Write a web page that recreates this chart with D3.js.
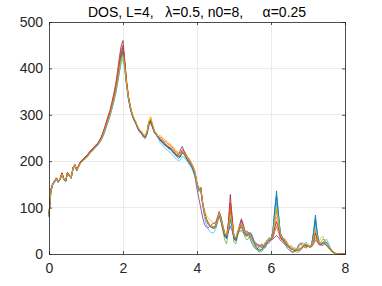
<!DOCTYPE html>
<html><head><meta charset="utf-8">
<script src="https://cdn.jsdelivr.net/npm/d3@7"></script>
<style>body{margin:0;background:#fff}svg{display:block}text{font-family:"Liberation Sans",Arial,sans-serif}</style>
</head><body><div id="chart"></div>
<script>
const titleText = "DOS, L=4,   \u03bb=0.5, n0=8,     \u03b1=0.25";
const xTicks = [0, 2, 4, 6, 8];
const yTicks = [0, 100, 200, 300, 400, 500];
const xStep = 0.05; // sampling of energy axis, 0..8
const colors = ["#0072BD","#D95319","#EDB120","#7E2F8E","#77AC30","#4DBEEE","#A2142F","#0072BD","#D95319","#EDB120"];

const s1 = [82,136,149,157,163,154,161,172,161,158,173,171,164,184,191,181,189,197,201,205,
208,212,217,221,225,230,233,238,244,252,262,274,286,298,313,329,346,368,392,415,
430,398,362,333,313,299,289,281,271,264,261,254,251,260,279,284,273,262,257,251,
247,240,241,233,234,226,229,219,219,211,211,209,220,214,211,201,199,189,185,168,
148,136,140,108,86,72,64,59,57,55,57,68,84,70,52,38,33,55,90,64,
33,30,44,56,65,55,48,50,42,30,20,14,10,12,18,22,16,14,25,34,
34,48,95,136,88,45,36,26,18,12,8,5,4,6,12,20,24,18,14,16,
17,16,22,48,84,45,24,20,18,22,26,20,12,6,2,0,0,0,0,0,0];
const s2 = [86,139,151,156,161,156,160,174,163,156,175,169,163,186,190,179,191,199,203,207,
210,214,219,224,228,233,236,242,249,258,269,281,293,305,321,338,356,380,408,432,
445,410,368,338,318,302,292,284,273,266,263,256,253,263,283,289,277,264,259,253,
249,245,241,237,234,231,229,223,219,215,211,213,221,219,211,205,199,193,185,173,
152,140,144,112,90,76,68,62,59,57,60,72,88,74,56,42,38,66,110,75,
36,33,46,57,60,52,40,38,46,44,34,22,14,8,6,10,18,26,30,28,
31,38,62,95,70,40,30,34,30,22,12,6,4,6,10,16,22,24,20,14,
17,15,17,30,50,34,21,21,25,24,19,15,11,7,3,1,0,0,0,0,0];
const s3 = [84,137,152,155,161,157,164,171,159,160,176,167,167,184,193,182,187,195,199,203,
206,210,216,220,224,229,233,239,245,253,264,276,288,299,315,331,349,371,396,418,
425,400,366,337,318,303,292,284,275,268,265,258,256,266,288,296,280,266,260,254,
256,252,249,244,242,238,236,231,226,222,218,219,225,222,216,210,204,197,188,176,
153,141,143,112,95,84,78,74,70,66,64,74,88,76,60,46,42,56,70,60,
40,36,50,62,70,62,48,45,47,41,33,27,23,21,19,18,19,23,29,33,
35,42,62,80,64,44,37,32,27,23,19,14,12,11,11,12,14,18,22,22,
20,18,19,30,40,32,28,34,38,30,20,14,10,6,3,1,0,0,0,0,0];
const s4 = [83,136,150,157,164,155,162,174,162,157,174,170,163,186,192,180,189,197,201,205,
209,213,219,223,227,232,235,241,247,257,268,280,292,304,320,336,355,378,405,432,
448,408,366,334,313,298,288,280,270,263,259,252,249,258,278,284,272,261,256,250,
246,242,238,234,231,228,226,221,216,212,214,224,232,222,210,202,196,190,180,165,
140,120,100,80,64,58,56,60,64,66,68,78,90,80,62,44,38,48,60,50,
34,30,45,62,76,64,48,44,46,40,32,26,22,20,18,17,18,22,28,31,
30,32,36,40,36,30,26,23,20,17,14,11,9,8,8,9,11,15,19,19,
17,15,16,22,30,26,20,20,24,23,18,14,10,6,3,1,0,0,0,0,0];
const s5 = [85,138,149,155,162,156,162,172,160,158,174,168,164,185,191,181,188,196,200,204,
208,212,218,222,226,231,234,240,246,255,266,278,290,302,317,333,350,372,398,422,
435,403,364,335,315,300,290,282,272,265,262,255,252,261,281,286,274,263,258,252,
248,244,240,236,233,230,228,222,218,214,210,211,218,217,210,204,198,192,184,172,
150,138,141,110,88,74,66,60,57,55,57,69,85,70,50,30,22,50,95,62,
25,22,40,55,55,48,36,30,34,40,30,18,10,6,4,6,10,16,24,30,
33,44,80,110,80,44,35,26,18,14,16,18,12,6,4,4,8,14,16,12,
17,15,19,42,70,42,22,26,32,30,22,14,8,4,2,0,0,0,0,0,0];
const s6 = [78,132,148,154,160,155,161,170,160,158,172,167,164,182,190,180,187,195,199,203,
206,210,216,220,224,229,232,238,244,252,263,275,286,298,313,328,345,366,390,412,
420,395,360,332,313,298,288,280,270,263,260,253,250,258,276,282,272,261,256,250,
240,236,231,226,224,220,217,212,208,204,201,203,210,209,203,198,191,185,176,165,
146,134,138,106,80,64,54,48,46,46,52,66,90,76,58,42,38,58,80,62,
36,32,46,58,68,58,44,41,36,30,26,28,24,16,10,8,12,22,30,36,
32,46,88,120,84,44,35,32,26,20,14,10,12,14,10,6,8,14,22,26,
17,15,18,40,65,40,22,18,20,28,32,24,14,8,3,1,0,0,0,0,0];
const s7 = [86,140,152,157,164,156,162,175,162,158,176,170,165,187,193,181,191,199,203,207,
211,215,221,225,229,234,237,243,250,260,272,285,298,310,327,345,365,392,422,448,
460,415,370,338,316,300,290,282,272,265,262,255,252,261,281,286,274,263,258,252,
248,244,240,236,233,230,228,222,218,214,210,212,220,218,210,204,198,192,184,172,
152,140,144,112,90,76,68,62,60,58,60,72,86,72,54,40,36,70,128,80,
38,34,46,58,72,60,45,42,44,38,30,24,20,18,16,15,16,20,26,30,
32,38,56,70,56,38,32,28,22,18,15,11,9,8,8,9,11,15,19,19,
17,15,17,30,45,32,21,21,25,24,19,15,11,7,3,1,0,0,0,0,0];
const s8 = [80,134,150,156,161,155,162,173,161,157,174,169,165,185,191,180,189,197,201,205,
208,212,218,222,226,231,234,240,246,254,265,277,289,301,316,332,350,373,400,426,
438,404,364,335,315,300,290,282,272,265,262,255,252,262,283,288,276,264,259,253,
245,242,236,234,229,227,224,219,214,211,206,210,218,216,207,202,195,190,181,170,
151,139,143,111,89,75,67,61,58,56,58,70,86,72,54,38,34,50,75,58,
32,28,42,50,50,46,42,40,42,46,38,26,16,10,8,10,14,20,22,24,
32,46,92,125,86,46,36,31,25,20,16,12,10,9,9,10,12,16,20,20,
18,16,20,44,75,44,23,22,26,25,20,16,12,8,4,1,0,0,0,0,0];
const s9 = [85,137,151,157,163,157,161,173,162,159,175,169,166,186,192,181,190,198,202,206,
210,214,220,224,228,233,236,242,249,258,270,283,296,308,324,341,361,386,414,440,
450,412,368,338,316,301,291,283,273,266,263,256,253,263,284,290,277,264,259,253,
252,250,244,242,238,236,232,228,222,220,214,217,225,222,215,208,203,195,188,176,
152,140,144,112,90,76,68,62,60,58,62,76,92,78,58,44,40,62,105,72,
37,34,46,56,58,52,44,42,44,38,30,24,20,18,16,15,16,20,26,30,
30,34,48,60,48,34,30,27,22,18,15,11,9,8,8,9,11,15,19,19,
17,15,16,26,35,28,20,20,24,23,18,14,10,6,3,1,0,0,0,0,0];
const s10 = [83,136,150,156,162,156,163,172,161,159,174,168,165,185,192,181,188,196,200,204,
207,211,217,221,225,230,234,240,246,254,265,277,289,300,316,332,350,372,398,420,
428,402,365,336,317,302,292,284,274,267,264,257,254,264,286,293,279,265,259,253,
249,245,241,237,234,231,229,223,219,215,211,213,220,218,211,205,199,193,185,174,
152,140,143,111,89,75,67,61,59,57,59,71,87,74,57,43,40,56,85,65,
38,35,48,60,68,58,46,43,45,39,31,25,21,19,17,16,17,21,27,31,
33,42,72,100,74,43,35,30,24,20,16,12,10,9,9,10,12,16,20,20,
18,16,18,34,55,36,22,22,26,25,20,16,12,8,4,1,0,0,0,0,0];
const seriesList = [s1,s2,s3,s4,s5,s6,s7,s8,s9,s10];

const W = 382, H = 286;
const m = {left:49, right:37, top:22, bottom:32};
const svg = d3.select("#chart").append("svg").attr("width", W).attr("height", H);
const x = d3.scaleLinear().domain([0, 8]).range([m.left, W - m.right]);
const y = d3.scaleLinear().domain([0, 500]).range([H - m.bottom, m.top]);

// grid
const g = svg.append("g");
g.selectAll(".gx").data(xTicks).join("line")
  .attr("x1", d => x(d)).attr("x2", d => x(d)).attr("y1", y(0)).attr("y2", y(500))
  .attr("stroke", "#e6e6e6").attr("stroke-width", 0.8).attr("shape-rendering","crispEdges");
g.selectAll(".gy").data(yTicks).join("line")
  .attr("y1", d => y(d)).attr("y2", d => y(d)).attr("x1", x(0)).attr("x2", x(8))
  .attr("stroke", "#e6e6e6").attr("stroke-width", 0.8).attr("shape-rendering","crispEdges");

// lines
const line = d3.line().x((d, i) => x(i * xStep)).y(d => y(d));
svg.append("g").selectAll("path").data(seriesList).join("path")
  .attr("d", line).attr("fill", "none")
  .attr("stroke", (d, i) => colors[i % colors.length]).attr("stroke-width", 0.8)
  .attr("stroke-linejoin", "round");

// axes (box)
const axisColor = "#262626";
svg.append("g").attr("transform", `translate(0,${y(0)})`)
  .call(d3.axisBottom(x).tickValues(xTicks).tickSize(-3).tickPadding(9).tickFormat(d3.format("d")));
svg.append("g").attr("transform", `translate(${x(0)},0)`)
  .call(d3.axisLeft(y).tickValues(yTicks).tickSize(-3).tickPadding(6).tickFormat(d3.format("d")));
svg.append("g").attr("transform", `translate(0,${y(500)})`)
  .call(d3.axisTop(x).tickValues(xTicks).tickSize(-3).tickFormat(""));
svg.append("g").attr("transform", `translate(${x(8)},0)`)
  .call(d3.axisRight(y).tickValues(yTicks).tickSize(-3).tickFormat(""));
svg.selectAll(".domain, .tick line").attr("stroke", axisColor).attr("stroke-width", 0.8);
svg.selectAll(".tick text").attr("fill", axisColor).style("font-size", "14px")
  .style("font-family", '"Liberation Sans", Arial, sans-serif');

svg.append("text").attr("x", (x(0) + x(8)) / 2).attr("y", 17)
  .attr("text-anchor", "middle").style("font-size", "14px").style("white-space", "pre")
  .attr("fill", "#000").text(titleText);
</script></body></html>
